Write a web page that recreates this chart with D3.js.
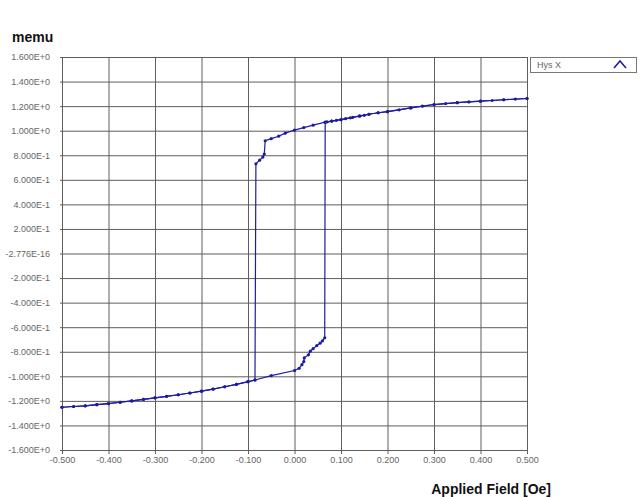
<!DOCTYPE html>
<html><head><meta charset="utf-8">
<script src="https://cdn.jsdelivr.net/npm/d3@7"></script>
<style>body{margin:0;background:#fff}svg{display:block}</style>
</head><body>
<svg id="c" width="640" height="497"></svg>
<script>
// Descending branch (field from +0.5 to -0.5)
const fieldDown = [0.500,0.475,0.450,0.425,0.400,0.375,0.350,0.325,0.300,0.275,0.250,0.225,0.200,0.180,0.160,0.150,0.140,0.125,0.110,0.100,0.090,0.080,0.070,0.066,0.040,0.020,0.000,-0.020,-0.034,-0.050,-0.063,-0.065,-0.068,-0.075,-0.083,-0.085,-0.100,-0.125,-0.150,-0.175,-0.200,-0.225,-0.250,-0.275,-0.300,-0.325,-0.350,-0.375,-0.400,-0.425,-0.450,-0.475,-0.500];
const momentDown = [1.262,1.257,1.252,1.246,1.240,1.234,1.228,1.221,1.213,1.200,1.185,1.170,1.155,1.146,1.134,1.125,1.118,1.108,1.098,1.090,1.084,1.078,1.072,1.070,1.045,1.025,1.005,0.980,0.955,0.935,0.918,0.810,0.785,0.760,0.730,-1.030,-1.042,-1.065,-1.085,-1.104,-1.121,-1.136,-1.150,-1.163,-1.175,-1.188,-1.200,-1.211,-1.222,-1.231,-1.240,-1.246,-1.252];
// Ascending branch (field from -0.5 to +0.5)
const fieldUp = [-0.500,-0.475,-0.450,-0.425,-0.400,-0.375,-0.350,-0.325,-0.300,-0.275,-0.250,-0.225,-0.200,-0.175,-0.150,-0.125,-0.100,-0.085,-0.050,0.000,0.010,0.016,0.020,0.021,0.030,0.034,0.040,0.048,0.055,0.060,0.065,0.066,0.080,0.100,0.120,0.140,0.160,0.180,0.200,0.250,0.300,0.350,0.400,0.450,0.500];
const momentUp = [-1.252,-1.246,-1.240,-1.231,-1.222,-1.211,-1.200,-1.188,-1.175,-1.163,-1.150,-1.136,-1.121,-1.104,-1.085,-1.066,-1.045,-1.030,-0.995,-0.953,-0.935,-0.905,-0.880,-0.850,-0.825,-0.795,-0.775,-0.750,-0.730,-0.712,-0.687,1.068,1.078,1.090,1.105,1.120,1.134,1.146,1.155,1.185,1.213,1.228,1.240,1.252,1.262];

const xTicks = [-0.5,-0.4,-0.3,-0.2,-0.1,0,0.1,0.2,0.3,0.4,0.5];
const xTickLabels = ["-0.500","-0.400","-0.300","-0.200","-0.100","0.000","0.100","0.200","0.300","0.400","0.500"];
const yTicks = [1.6,1.4,1.2,1.0,0.8,0.6,0.4,0.2,0,-0.2,-0.4,-0.6,-0.8,-1.0,-1.2,-1.4,-1.6];
const yTickLabels = ["1.600E+0","1.400E+0","1.200E+0","1.000E+0","8.000E-1","6.000E-1","4.000E-1","2.000E-1","-2.776E-16","-2.000E-1","-4.000E-1","-6.000E-1","-8.000E-1","-1.000E+0","-1.200E+0","-1.400E+0","-1.600E+0"];
const seriesName = "Hys X";

const svg = d3.select("#c");
const L = 62, R = 527, T = 57, B = 450;
const x = d3.scaleLinear().domain([-0.5,0.5]).range([L,R]);
const y = d3.scaleLinear().domain([-1.6,1.6]).range([B,T]);
const font = "Liberation Sans, Arial, sans-serif";
const gridColor = "#5e5e5e";

// grid
const g = svg.append("g");
g.selectAll("line.v").data(xTicks).join("line")
  .attr("x1",d=>x(d)+0.5).attr("x2",d=>x(d)+0.5).attr("y1",T).attr("y2",B+4)
  .attr("stroke",gridColor).attr("stroke-width",1);
g.selectAll("line.h").data(yTicks).join("line")
  .attr("x1",L-2).attr("x2",R).attr("y1",d=>y(d)+0.5).attr("y2",d=>y(d)+0.5)
  .attr("stroke",gridColor).attr("stroke-width",1);

// axes labels
const xa = svg.append("g").attr("transform",`translate(0,${B})`)
  .call(d3.axisBottom(x).tickValues(xTicks).tickSize(0).tickPadding(7).tickFormat((d,i)=>xTickLabels[i]));
xa.select(".domain").remove();
xa.selectAll("text").attr("font-family",font).attr("font-size",9).attr("fill","#666");
const ya = svg.append("g").attr("transform",`translate(${L},0)`)
  .call(d3.axisLeft(y).tickValues(yTicks).tickSize(0).tickPadding(12).tickFormat((d,i)=>yTickLabels[i]));
ya.select(".domain").remove();
ya.selectAll("text").attr("font-family",font).attr("font-size",9).attr("fill","#666");

const blue = "#1c1ca0";
const line = d3.line().x(d=>x(d[0])).y(d=>y(d[1]));
const down = fieldDown.map((f,i)=>[f,momentDown[i]]);
const up = fieldUp.map((f,i)=>[f,momentUp[i]]);
[down,up].forEach(s=>{
  svg.append("path").datum(s).attr("d",line).attr("fill","none")
    .attr("stroke",blue).attr("stroke-width",1.2);
});
const pts = down.concat(up);
svg.append("g").selectAll("circle").data(pts).join("circle")
  .attr("cx",d=>x(d[0])).attr("cy",d=>y(d[1])).attr("r",1.6).attr("fill",blue);

// axis titles
svg.append("text").attr("x",12).attr("y",42).text("memu")
  .attr("font-family",font).attr("font-size",14).attr("font-weight","bold").attr("fill","#111");
svg.append("text").attr("x",551).attr("y",494).attr("text-anchor","end").text("Applied Field [Oe]")
  .attr("font-family",font).attr("font-size",14).attr("font-weight","bold").attr("fill","#111");

// legend
const lg = svg.append("g");
lg.append("rect").attr("x",530.5).attr("y",57.5).attr("width",106).attr("height",15)
  .attr("fill","#fff").attr("stroke","#777");
lg.append("text").attr("x",537).attr("y",68).text(seriesName)
  .attr("font-family",font).attr("font-size",9).attr("fill","#666");
lg.append("path").attr("d","M614,68 L620,61 L626,68").attr("fill","none")
  .attr("stroke",blue).attr("stroke-width",1.6);
</script>
</body></html>
